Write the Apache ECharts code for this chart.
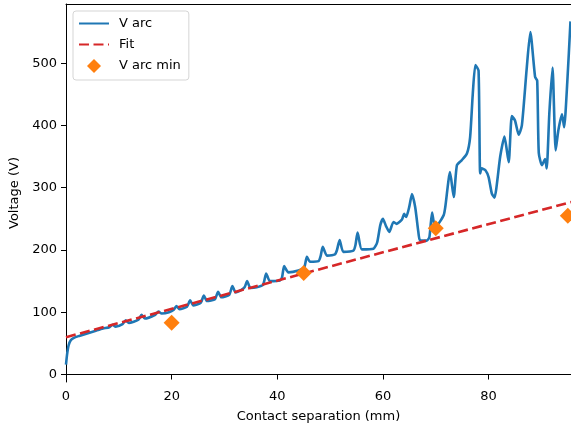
<!DOCTYPE html>
<html>
<head>
<meta charset="utf-8">
<script src="https://cdn.jsdelivr.net/npm/echarts@6/dist/echarts.min.js"></script>
<style>
  html, body { margin: 0; padding: 0; background: #fff; }
  #chart { width: 571px; height: 433px; }
</style>
</head>
<body>
<div id="chart"></div>
<script>
/* 数据 */
var sepX = [0, 0.2, 0.5, 0.9, 1.5, 2.5, 4, 5.5, 7, 8.2, 8.8, 9.4, 10.7, 11.3, 11.9, 13.7, 14.3, 14.9,
  16.9, 17.5, 18.1, 19.5, 20.4, 20.9, 21.5, 22.9, 23.5, 24.1, 25.5, 26.1, 26.7, 28.2, 28.8, 29.4,
  30.9, 31.5, 32.1, 33.2, 33.8, 34.3, 34.9, 36.1, 37.3, 37.9, 38.6, 40.5, 40.9, 41.3, 42.1, 44,
  45.1, 45.6, 46.2, 47.8, 48.2, 48.6, 49.4, 50.9, 51.3, 51.8, 52.5, 54.4, 54.8, 55.2, 56, 58.2,
  58.9, 59.5, 60, 60.6, 61.2, 62, 62.6, 63.6, 64, 64.4, 65, 65.5, 66.1, 66.7, 67, 68.3, 68.8,
  69.3, 69.7, 70.2, 71.5, 71.8, 72.7, 73.4, 74, 74.9, 75.9, 76.5, 77, 77.5, 78.1, 78.4, 78.7,
  79.4, 80, 80.6, 81.1, 82.2, 83, 83.8, 84.4, 85, 85.7, 86.3, 87.2, 87.9, 88.8, 89.2, 89.5,
  90.1, 90.7, 91, 91.5, 92.1, 92.7, 93.2, 93.9, 94.3, 94.9, 95.5]
var vArc = [16, 32, 47, 55, 59, 62, 66, 70, 74, 76, 80, 77, 81, 87, 83, 88, 96, 90,
  96, 101, 98, 100, 104, 110, 105, 109, 119, 111, 115, 127, 118, 121, 133, 124,
  128, 142, 132, 136, 140, 150, 139, 140, 144, 162, 150, 151, 156, 174, 164, 167,
  172, 189, 181, 182, 190, 205, 191, 193, 200, 216, 197, 199, 208, 228, 201, 202,
  212, 240, 250, 238, 229, 245, 242, 249, 258, 253, 270, 290, 269, 229, 216, 215, 221,
  260, 242, 240, 256, 269, 325, 285, 336, 344, 355, 381, 450, 497, 488, 323, 331,
  328, 317, 291, 284, 350, 382, 341, 415, 408, 385, 400, 490, 550, 478, 472, 356,
  336, 346, 331, 420, 493, 360, 392, 418, 397, 470, 567]
var fitX = [0, 95.6]
var fitV = [60, 277]
var minX = [20, 45, 70, 95]
var minV = [83, 163, 235, 255]
var xTicks = [0, 20, 40, 60, 80]
var yTicks = [0, 100, 200, 300, 400, 500]

function pairs(xs, ys) {
  return xs.map(function (x, i) { return [x, ys[i]] })
}

(function () {
  var myEchart = echarts.init(document.getElementById('chart'))
  var font = 'DejaVu Sans'
  var option = {
    animation: false,
    textStyle: { fontFamily: font },
    grid: { left: 66, right: 0, top: 4, bottom: 51 },
    legend: {
      orient: 'vertical',
      left: 73,
      top: 11,
      padding: [6, 8, 7, 5],
      itemWidth: 30,
      itemHeight: 14,
      itemGap: 8,
      symbolKeepAspect: true,
      backgroundColor: 'rgba(255,255,255,0.8)',
      borderColor: '#d5d5d5',
      borderWidth: 1,
      borderRadius: 3,
      textStyle: { fontSize: 13, color: '#000', fontFamily: font, padding: [0, 0, 0, 5] },
      // 线条图例不要圆点
      data: [
        { name: 'V arc', itemStyle: { opacity: 0 } },
        { name: 'Fit', itemStyle: { opacity: 0 } },
        // 菱形保持比例
        { name: 'V arc min', icon: 'path://M0,0 M30,16 M15,0 L23,8 L15,16 L7,8 Z' }
      ]
    },
    xAxis: [{
      type: 'value',
      min: 0,
      max: 95.6,
      name: 'Contact separation (mm)',
      nameLocation: 'middle',
      nameGap: 28,
      nameTextStyle: { fontSize: 13, color: '#000' },
      axisLine: { lineStyle: { color: '#000', width: 1 } },
      axisTick: { customValues: xTicks, length: 5, lineStyle: { color: '#000' } },
      axisLabel: { customValues: xTicks, fontSize: 13, color: '#000', margin: 8 },
      splitLine: { show: false }
    }, {
      // 上边框
      type: 'value',
      position: 'top',
      min: 0,
      max: 95.6,
      axisLine: { show: true, onZero: false, lineStyle: { color: '#000', width: 1 } },
      axisTick: { show: false },
      axisLabel: { show: false },
      splitLine: { show: false }
    }],
    yAxis: {
      type: 'value',
      min: -12,
      max: 595,
      name: 'Voltage (V)',
      nameLocation: 'middle',
      nameGap: 45,
      nameTextStyle: { fontSize: 13, color: '#000' },
      axisLine: { show: true, onZero: false, lineStyle: { color: '#000', width: 1 } },
      axisTick: { show: true, customValues: yTicks, length: 5, lineStyle: { color: '#000' } },
      axisLabel: { customValues: yTicks, fontSize: 13, color: '#000', margin: 9 },
      splitLine: { show: false }
    },
    series: [
      {
        name: 'V arc',
        type: 'line',
        data: pairs(sepX, vArc),
        symbol: 'none',
        smooth: 0.2,
        color: '#1f77b4',
        lineStyle: { width: 2.6, color: '#1f77b4' },
        z: 2
      },
      {
        name: 'Fit',
        type: 'line',
        data: pairs(fitX, fitV),
        symbol: 'none',
        color: '#d62728',
        lineStyle: { width: 2.6, type: [10, 4.5], color: '#d62728' },
        z: 3
      },
      {
        name: 'V arc min',
        type: 'scatter',
        data: pairs(minX, minV),
        symbol: 'diamond',
        symbolSize: 16,
        color: '#ff7f0e',
        itemStyle: { color: '#ff7f0e', opacity: 1 },
        z: 4
      }
    ]
  }
  myEchart.setOption(option)
  window.addEventListener('resize', function () {
    myEchart.resize()
  })
})()
</script>
</body>
</html>
